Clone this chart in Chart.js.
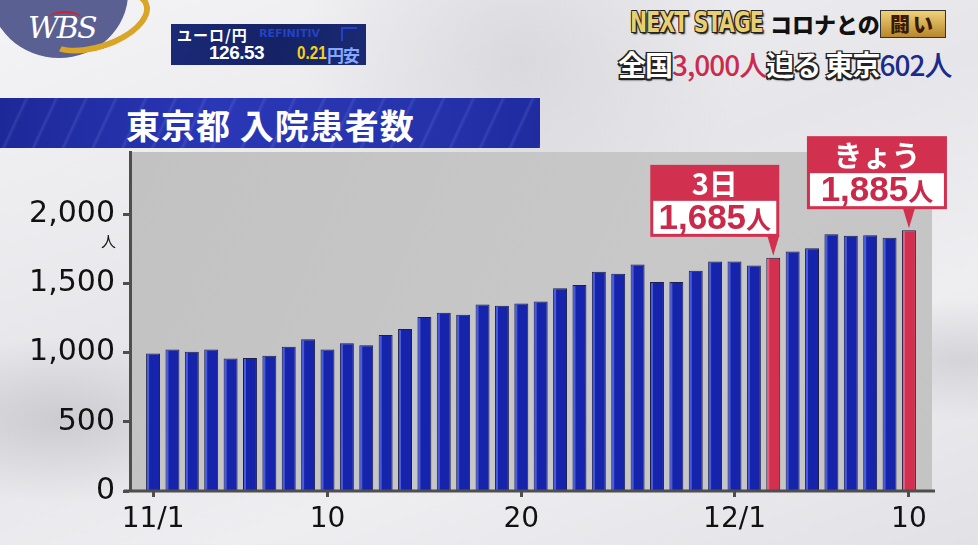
<!DOCTYPE html>
<html lang="ja">
<head>
<meta charset="utf-8">
<script src="https://cdn.jsdelivr.net/npm/chart.js@4"></script>
<style>
body { margin: 0; }
#stage {
    position: relative; width: 978px; height: 545px; overflow: hidden;
    font-family: "Noto Sans CJK JP", sans-serif;
    background:
        radial-gradient(ellipse at 60px 420px, rgba(170,170,175,0.45), rgba(0,0,0,0) 180px),
        radial-gradient(ellipse at 520px 60px, rgba(200,200,205,0.5), rgba(0,0,0,0) 220px),
        radial-gradient(ellipse at 960px 360px, rgba(190,190,195,0.5), rgba(0,0,0,0) 160px),
        linear-gradient(160deg, #f4f4f6 0%, #e6e6ea 45%, #eeeef1 70%, #e2e2e6 100%);
}
#wrap { position: absolute; left: 0; top: 0; width: 978px; height: 545px; }
.logo { position: absolute; left: -10px; top: -72px; width: 138px; height: 130px; border-radius: 50%; background: #5a6092; }
.anel { position: absolute; left: 40px; top: -8px; width: 100px; height: 46px; border-radius: 50%;
    border: 6px solid transparent; border-bottom-color: #d8a526; border-right-color: #d8a526; transform: rotate(-18deg); }
.wbs { position: absolute; left: 28px; top: 10px; color: #fff; font: italic 30px "DejaVu Serif", serif; letter-spacing: -2px; }
.wbs-arco { position: absolute; left: 48px; top: 11px; width: 34px; height: 14px; border-top: 2px solid #d02030; border-radius: 50%; }
.cambio { position: absolute; left: 171px; top: 24px; width: 195px; height: 41px;
    background: linear-gradient(100deg, #1b2a78 0%, #152265 55%, #1a2a74 100%); color: #fff; }
.cambio .par { position: absolute; left: 6px; top: 0px; font-size: 15px; font-weight: bold; letter-spacing: 1px; }
.cambio .ref { position: absolute; left: 88px; top: 3px; font: bold 11px "DejaVu Sans", sans-serif; color: #2442c4; }
.cambio .ico { position: absolute; left: 170px; top: 3px; width: 14px; height: 12px; border-left: 2px solid #2442c4; border-top: 2px solid #2442c4; }
.cambio .val { position: absolute; left: 38px; top: 18px; font: bold 19px "Liberation Sans", sans-serif; letter-spacing: -0.5px; }
.cambio .dif { position: absolute; left: 126px; top: 18px; font: bold 19px "Liberation Sans", sans-serif; color: #f3d21a;
    display: inline-block; transform: scaleX(0.8); transform-origin: left top; }
.cambio .yen { position: absolute; left: 156px; top: 18px; font-size: 17px; font-weight: bold; color: #86a8ff; letter-spacing: -1px; }
.next { position: absolute; left: 630px; top: 5px; font: bold 29px "DejaVu Sans Condensed", "DejaVu Sans", sans-serif;
    transform: scaleX(0.78); transform-origin: left top; color: #e8cf73;
    text-shadow: -1px -1px 0 #222, 1px -1px 0 #222, -1px 1px 0 #222, 1px 1px 0 #222, 2px 2px 2px #000; letter-spacing: -1px; }
.corona { position: absolute; left: 770px; top: 7px; font-size: 22px; font-weight: 900; color: #111; }
.luta { position: absolute; left: 880px; top: 10px; width: 64px; height: 26px; background: linear-gradient(#f0d27a, #b8862a);
    border: 1px solid #333; color: #3a1a06; font-size: 20px; font-weight: 900; line-height: 25px; text-align: center; letter-spacing: 3px; }
.manchete { position: absolute; left: 618px; top: 44px; font-size: 28px; font-weight: bold; letter-spacing: -1px; color: #fff;
    text-shadow: -1.5px -1.5px 0 #222, 1.5px -1.5px 0 #222, -1.5px 1.5px 0 #222, 1.5px 1.5px 0 #222, 0 2px 2px #000; }
.manchete .r { color: #cc2a4c; text-shadow: none; font-weight: 500; }
.manchete .b { color: #1b2a8c; text-shadow: none; font-weight: 500; }
.faixa { position: absolute; left: 0; top: 98px; width: 540px; height: 50px;
    background:
        repeating-linear-gradient(115deg, rgba(255,255,255,0) 0px, rgba(255,255,255,0) 22px, rgba(140,150,255,0.18) 24px, rgba(255,255,255,0) 27px),
        linear-gradient(90deg, #1d2898 0%, #2a37b6 40%, #2634ad 75%, #1f2b9f 100%); }
.faixa span { position: absolute; left: 126px; top: 2px; color: #fff; font-size: 34px; font-weight: bold; letter-spacing: 1px; }
</style>
</head>
<body>
<div id="stage">
    <div class="logo"></div>
    <div class="anel"></div>
    <div class="wbs-arco"></div>
    <div class="wbs">WBS</div>
    <div class="cambio">
        <span class="par">ユーロ/円</span>
        <span class="ref">REFINITIV</span>
        <span class="ico"></span>
        <span class="val">126.53</span>
        <span class="dif">0.21</span>
        <span class="yen">円安</span>
    </div>
    <div class="next">NEXT STAGE</div>
    <div class="corona">コロナとの</div>
    <div class="luta">闘い</div>
    <div class="manchete">全国<span class="r">3,000人</span>迫る 東京<span class="b">602人</span></div>
    <div class="faixa"><span>東京都 入院患者数</span></div>
    <div id="wrap"><canvas id="grafico"></canvas></div>
</div>
<script>
// Dados (11/1 a 12/10)
const dias = ['11/1','11/2','11/3','11/4','11/5','11/6','11/7','11/8','11/9','11/10',
    '11/11','11/12','11/13','11/14','11/15','11/16','11/17','11/18','11/19','11/20',
    '11/21','11/22','11/23','11/24','11/25','11/26','11/27','11/28','11/29','11/30',
    '12/1','12/2','12/3','12/4','12/5','12/6','12/7','12/8','12/9','12/10'];
const internados = [993, 1022, 1007, 1022, 957, 962, 978, 1043, 1096, 1022,
    1067, 1053, 1128, 1171, 1257, 1288, 1274, 1348, 1339, 1355,
    1370, 1466, 1488, 1584, 1570, 1637, 1510, 1510, 1591, 1658,
    1658, 1629, 1685, 1730, 1755, 1856, 1844, 1849, 1831, 1885];

// Rótulos do eixo X
const ticksX = [0, 9, 19, 30, 39];
const rotulosX = ['11/1', '10', '20', '12/1', '10'];
const ticksY = [0, 500, 1000, 1500, 2000];

// Barras destacadas
const destaques = [32, 39];
const titulosDestaque = ['3日', 'きょう'];

const AZUL = '#1624ac';
const VERMELHO = '#d2304f';

const cores = internados.map((v, i) => destaques.includes(i) ? VERMELHO : AZUL);

const pluginFundo = {
    id: 'fundo',
    beforeDraw(chart) {
        const a = chart.chartArea, ctx = chart.ctx;
        const g = ctx.createLinearGradient(a.left, a.top, a.right, a.bottom);
        g.addColorStop(0, '#c2c2c2');
        g.addColorStop(0.6, '#c8c8c8');
        g.addColorStop(1, '#c4c4c4');
        ctx.save();
        ctx.fillStyle = g;
        ctx.fillRect(a.left, a.top, a.right - a.left, a.bottom - a.top);
        ctx.restore();
    }
};

const pluginBalao = {
    id: 'balao',
    afterDatasetsDraw(chart) {
        const ctx = chart.ctx;
        const meta = chart.getDatasetMeta(0);
        ctx.save();
        // brilho lateral das barras
        meta.data.forEach((el, i) => {
            const w = el.width;
            ctx.fillStyle = destaques.includes(i) ? 'rgba(255,140,160,0.5)' : 'rgba(110,130,255,0.6)';
            ctx.fillRect(el.x - w / 2 + 1, el.y + 1, 2, el.base - el.y - 1);
        });

        // eixo x estendido
        const a = chart.chartArea;
        ctx.strokeStyle = '#4e4e4e';
        ctx.lineWidth = 3;
        ctx.beginPath();
        ctx.moveTo(a.left - 6, a.bottom);
        ctx.lineTo(a.right + 3, a.bottom);
        ctx.stroke();

        // unidade
        ctx.fillStyle = '#111';
        ctx.font = '15px "Noto Sans CJK JP"';
        ctx.textAlign = 'right';
        ctx.textBaseline = 'middle';
        ctx.fillText('人', 116, chart.scales.y.getPixelForValue(2000) + 27);

        const larguras = [129, 140];
        const desloc = [6, 38];
        const altCab = [36, 37];
        const altCorpo = 36;
        destaques.forEach((k, n) => {
            const el = meta.data[k];
            const bx = el.x, by = el.y;
            const fundo = by - 21;
            const topoCorpo = fundo - altCorpo;
            const topo = topoCorpo - altCab[n];
            const dir = bx + desloc[n];
            const esq = dir - larguras[n];
            const cx = (esq + dir) / 2;

            // seta
            ctx.fillStyle = VERMELHO;
            ctx.beginPath();
            ctx.moveTo(bx - 6, fundo - 1);
            ctx.lineTo(bx + 6, fundo - 1);
            ctx.lineTo(bx, fundo + 19);
            ctx.closePath();
            ctx.fill();

            ctx.fillRect(esq, topo, larguras[n], fundo - topo);
            ctx.fillStyle = '#fff';
            ctx.fillRect(esq + 3, topoCorpo, larguras[n] - 6, fundo - topoCorpo - 3);

            ctx.textAlign = 'center';
            ctx.textBaseline = 'middle';
            ctx.font = 'bold 29px "Noto Sans CJK JP"';
            ctx.fillText(titulosDestaque[n], cx, topo + altCab[n] / 2 + 1);

            const num = internados[k].toLocaleString('en-US');
            ctx.font = 'bold 35px "Liberation Sans"';
            const wNum = ctx.measureText(num).width;
            ctx.font = 'bold 25px "Noto Sans CJK JP"';
            const wUn = ctx.measureText('人').width;
            const x0 = cx - (wNum + wUn) / 2;
            ctx.fillStyle = '#c92a4a';
            ctx.textAlign = 'left';
            ctx.textBaseline = 'alphabetic';
            ctx.font = 'bold 35px "Liberation Sans"';
            ctx.fillText(num, x0, fundo - 8);
            ctx.font = 'bold 25px "Noto Sans CJK JP"';
            ctx.fillText('人', x0 + wNum, fundo - 8);
        });
        ctx.restore();
    }
};

const ctx = document.getElementById('grafico').getContext('2d');
new Chart(ctx, {
    type: 'bar',
    data: {
        datasets: [{
            data: internados.map((v, i) => ({ x: i, y: v })),
            backgroundColor: cores,
            borderColor: '#1c1f4a',
            borderWidth: 1,
            borderSkipped: 'bottom',
            barPercentage: 0.72,
            categoryPercentage: 1
        }]
    },
    options: {
        responsive: true,
        maintainAspectRatio: false,
        animation: false,
        events: [],
        layout: { padding: { left: 0, top: 152, right: 46, bottom: 0 } },
        plugins: { legend: { display: false }, tooltip: { enabled: false } },
        scales: {
            x: {
                type: 'linear',
                min: -1.19,
                max: 40.19,
                offset: false,
                afterBuildTicks: s => { s.ticks = ticksX.map(v => ({ value: v })); },
                afterFit: s => { s.height = 54; },
                border: { display: false },
                grid: { offset: false, drawOnChartArea: false, drawTicks: true, tickLength: 6, tickColor: '#4e4e4e', tickWidth: 3 },
                ticks: {
                    autoSkip: false,
                    maxRotation: 0,
                    padding: 6,
                    color: '#111',
                    font: { family: 'DejaVu Sans', size: 28 },
                    callback: v => rotulosX[ticksX.indexOf(v)]
                }
            },
            y: {
                min: 0,
                max: 2450,
                afterBuildTicks: s => { s.ticks = ticksY.map(v => ({ value: v })); },
                afterFit: s => { s.width = 130; },
                border: { display: true, color: '#4e4e4e', width: 3 },
                grid: { drawOnChartArea: false, drawTicks: true, tickLength: 7, tickColor: '#4e4e4e', tickWidth: 3 },
                ticks: {
                    padding: 8,
                    color: '#111',
                    font: { family: 'DejaVu Sans', size: 30 },
                    callback: v => v.toLocaleString('en-US')
                }
            }
        }
    },
    plugins: [pluginFundo, pluginBalao]
});
</script>
</body>
</html>
